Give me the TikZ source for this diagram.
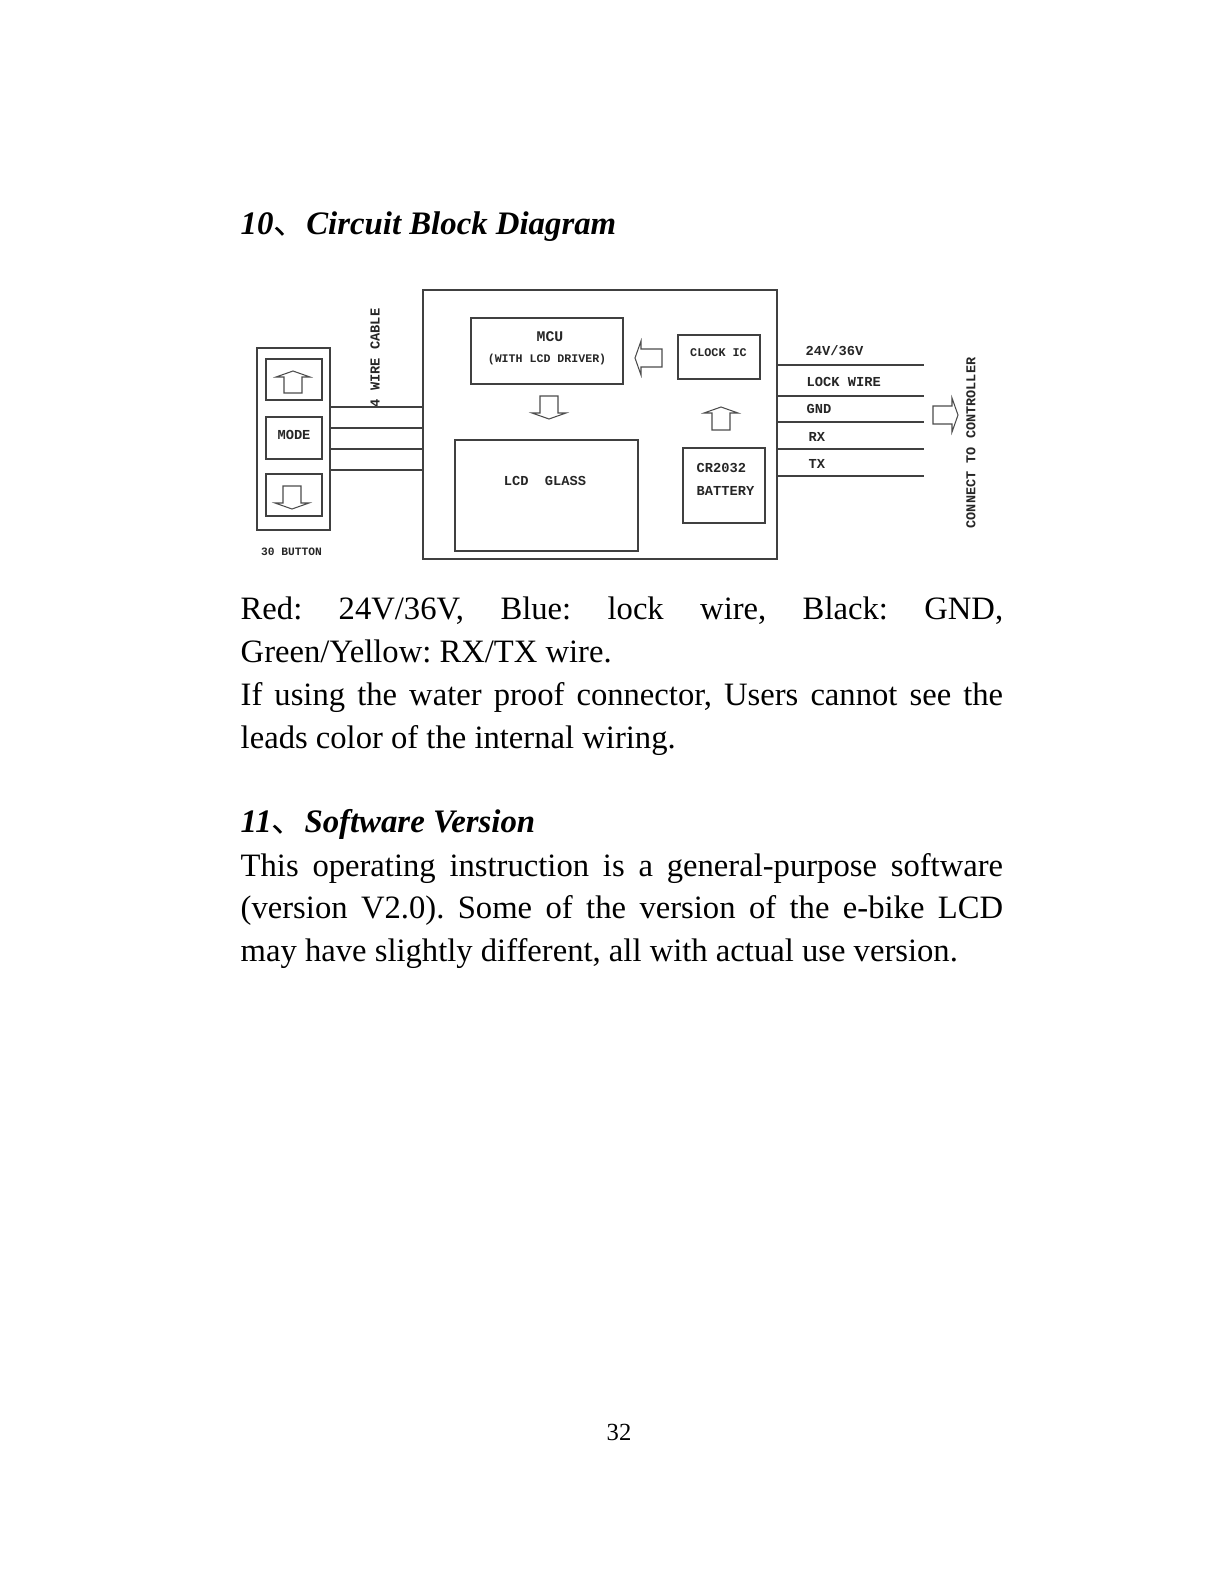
\documentclass[tikz,border=0pt]{standalone}
\usepackage{fontspec}
\setmainfont{Liberation Serif}
\setmonofont{Liberation Mono}
\newfontfamily\cjkfont{Noto Sans CJK SC}
\newcommand{\lblfont}[1]{\fontsize{#1}{#1}\ttfamily\bfseries\selectfont}
\newcommand{\hollowarrow}[4]{%
  \draw[arrowline, shift={(#1,#2)}, rotate=#3]
    (0,0) -- (-6,17) -- (-6,9) -- (-#4,9) -- (-#4,-9) -- (-6,-9) -- (-6,-17) -- cycle;}
\tikzset{
  blockbox/.style={draw=black!75, line width=.38pt, inner sep=0pt, outer sep=0pt},
  wire/.style={black!75, line width=.38pt},
  arrowline/.style={black!70, line width=.3pt, line join=miter},
  lbl/.style={inner sep=0pt, text=black!85, font=\lblfont{3.9pt}},
  bodytext/.style={anchor=north west, inner sep=0pt, text width=7.62cm, align=justify, font=\fontsize{9.28pt}{12.15pt}\frenchspacing\selectfont},
  headtext/.style={anchor=west, inner sep=0pt, font=\fontsize{9.33pt}{12pt}\bfseries\itshape\selectfont}
}
\begin{document}
\begin{tikzpicture}[x=0.01cm, y=-0.01cm]
    \useasboundingbox (0,0) rectangle (1219,1582);

    % Heading
    \node[headtext] (headone) at (240,227) {10{\cjkfont\mdseries\upshape 、}Circuit Block Diagram};

    % Blocks
    \node[blockbox, minimum width=.73cm, minimum height=1.82cm] (btnpanel) at (293.5,439) {};
    \node[blockbox, minimum width=.56cm, minimum height=.41cm] (btnup) at (294,379.5) {};
    \node[blockbox, minimum width=.56cm, minimum height=.42cm] (btnmode) at (294,438) {};
    \node[blockbox, minimum width=.56cm, minimum height=.42cm] (btndown) at (294,495) {};
    \node[blockbox, minimum width=3.54cm, minimum height=2.69cm] (board) at (600,424.5) {};
    \node[blockbox, minimum width=1.52cm, minimum height=.66cm] (mcu) at (547,351) {};
    \node[blockbox, minimum width=1.83cm, minimum height=1.11cm] (lcd) at (546.5,495.5) {};
    \node[blockbox, minimum width=.82cm, minimum height=.44cm] (clockic) at (719,357) {};
    \node[blockbox, minimum width=.82cm, minimum height=.75cm] (battery) at (724,485.5) {};

    % Block labels
    \node[lbl] (modelbl) at (294,435) {MODE};
    \node[lbl, font=\lblfont{3.2pt}] (btnlbl) at (291.5,552) {30 BUTTON};
    \node[lbl, rotate=90] (cablelbl) at (375,358) {4 WIRE CABLE};
    \node[lbl, font=\lblfont{4.2pt}] (mculbl) at (550,337) {MCU};
    \node[lbl, font=\lblfont{3.3pt}] (driverlbl) at (547,359) {(WITH LCD DRIVER)};
    \node[lbl] (lcdlbl) at (545,481) {LCD\ \ GLASS};
    \node[lbl, font=\lblfont{3.35pt}] (clocklbl) at (718.5,353) {CLOCK IC};
    \node[lbl, anchor=west] (cr2032lbl) at (696,468) {CR2032};
    \node[lbl, anchor=west] (batterylbl) at (696,491) {BATTERY};

    % 4 wire cable
    \foreach \y [count=\i] in {407,428,449,470} {
      \coordinate (cable\i) at (376,\y);
      \draw[wire] (btnpanel.east |- cable\i) -- (board.west |- cable\i);
    }

    % Controller wires
    \foreach \y/\txt/\ly/\lx [count=\i] in {365/24V\slash 36V/351/805, 396/LOCK WIRE/382/806, 422/GND/409/806, 449/RX/437/808, 476/TX/464/808} {
      \coordinate (line\i) at (924,\y);
      \draw[wire] (board.east |- line\i) -- (line\i);
      \node[lbl, anchor=west] (linelbl\i) at (\lx,\ly) {\txt};
    }
    \node[lbl, rotate=90, font=\lblfont{3.85pt}] (controllerlbl) at (971,443) {CONNECT TO CONTROLLER};

    % Hollow arrows
    \hollowarrow{293}{371}{90}{22}
    \hollowarrow{292}{509}{-90}{23}
    \hollowarrow{549}{419}{-90}{23}
    \hollowarrow{635}{358}{180}{27}
    \hollowarrow{721}{407}{90}{23}
    \hollowarrow{958}{415}{0}{25}

    % Text
    \node[bodytext] (bodyone) at (240,596.5) {Red: 24V/36V, Blue: lock wire, Black: GND,\linebreak
      Green/Yellow: RX/TX wire.\par
      If using the water proof connector, Users cannot see the\linebreak
      leads color of the internal wiring.};
    \node[headtext] (headtwo) at (240,824) {11{\cjkfont\mdseries\upshape 、}Software Version};
    \node[bodytext] (bodytwo) at (240,852.5) {This operating instruction is a general-purpose software\linebreak
      (version V2.0). Some of the version of the e-bike LCD\linebreak
      may have slightly different, all with actual use version.};
    \node[inner sep=0pt, font=\fontsize{7pt}{8pt}\selectfont] (pagenum) at (619,1432) {32};
\end{tikzpicture}
\end{document}
